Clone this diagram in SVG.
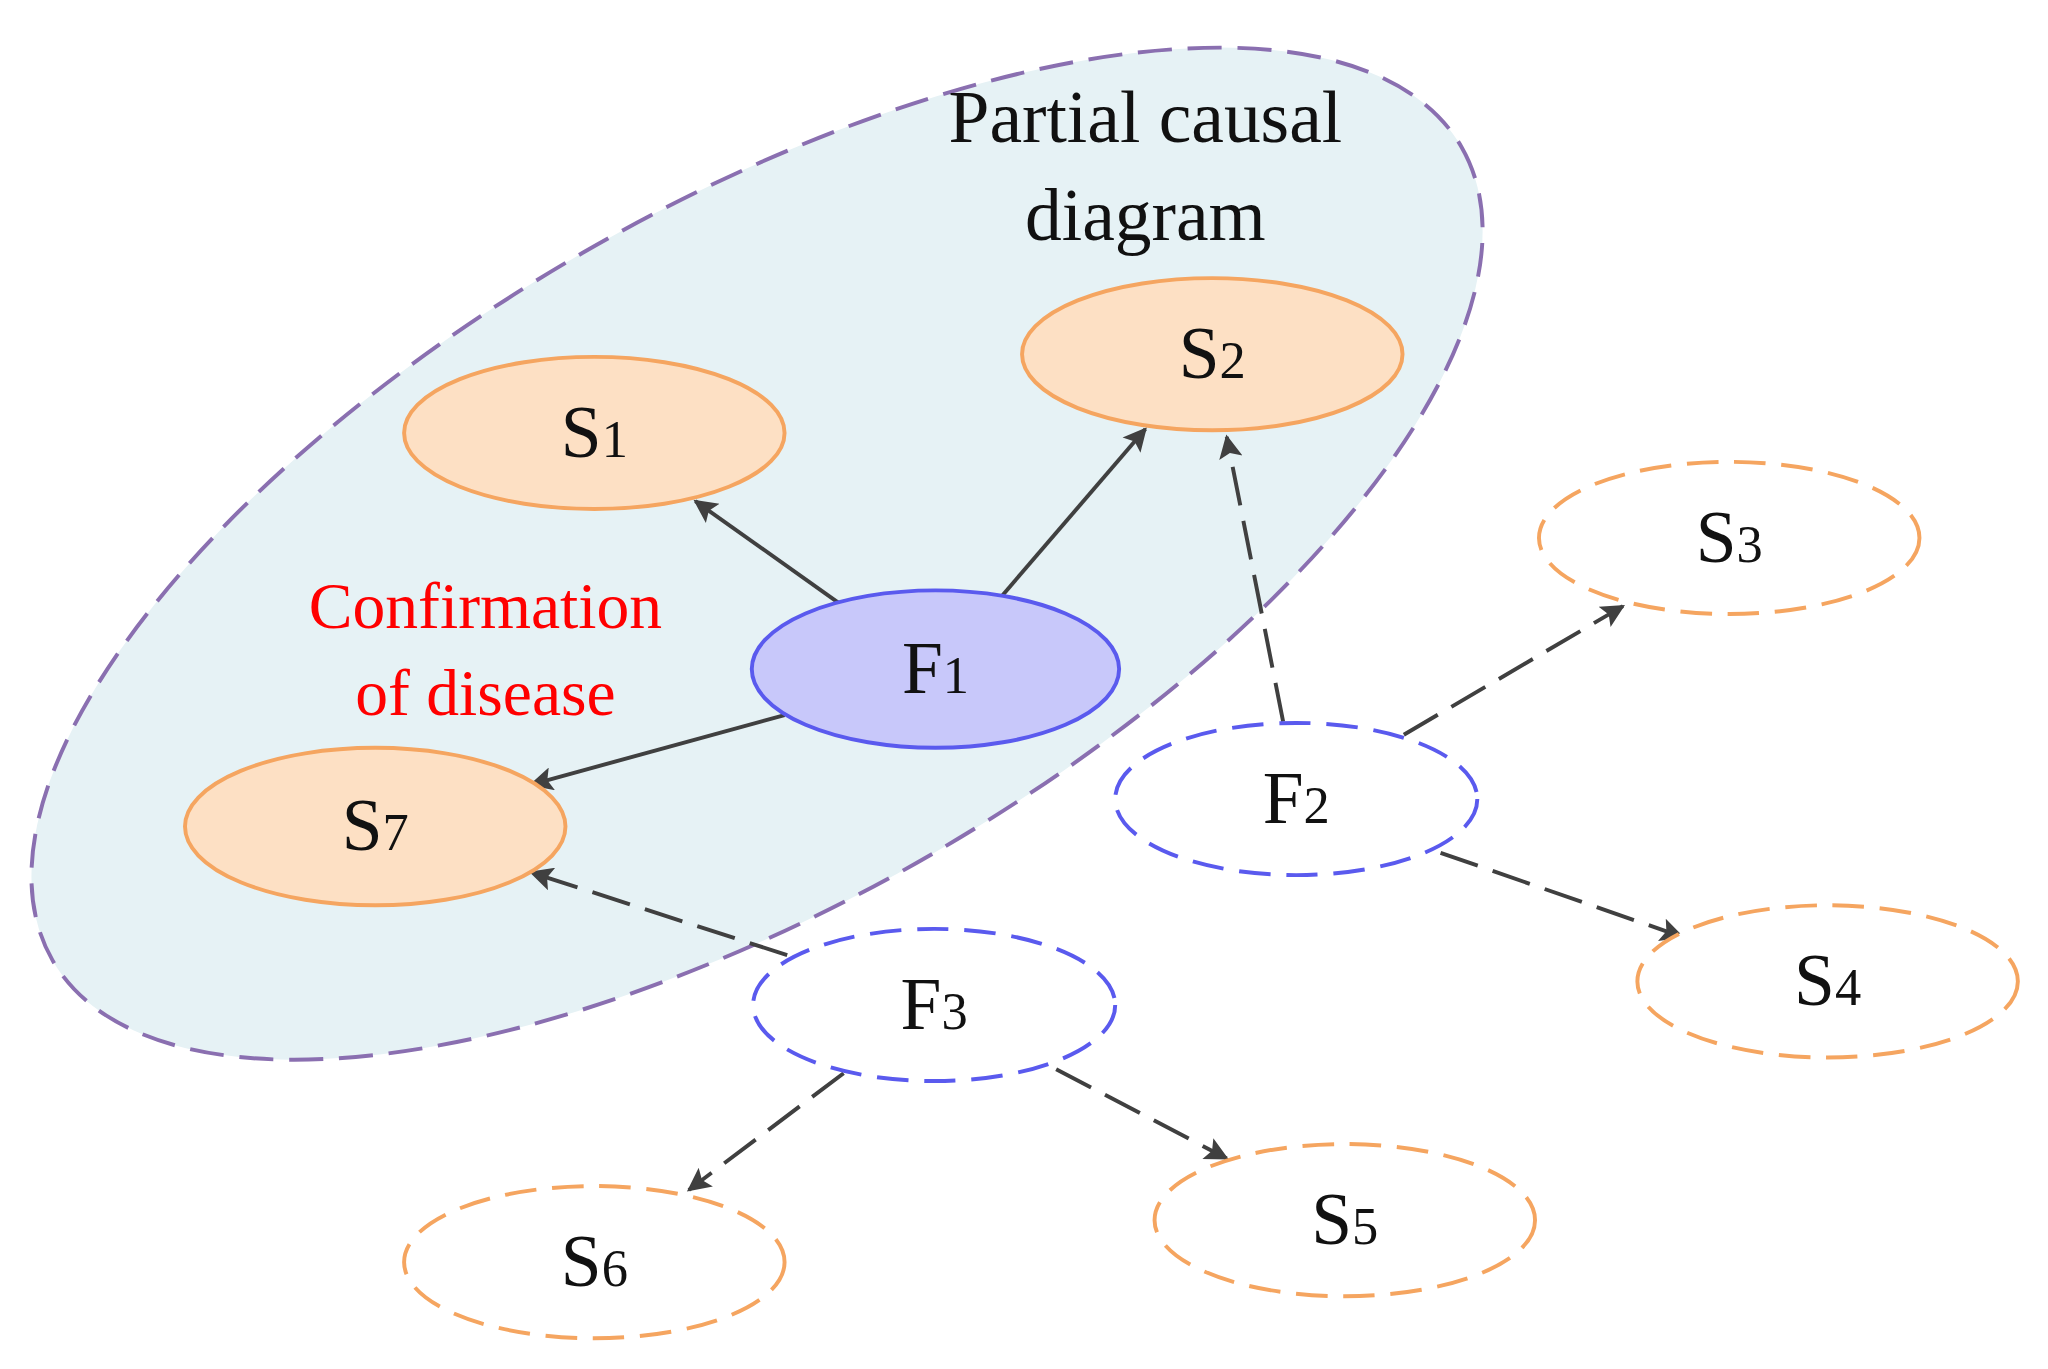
<svg xmlns="http://www.w3.org/2000/svg" width="2048" height="1369" viewBox="0 0 2048 1369">
<defs>
<marker id="ah" viewBox="0 0 10 10" refX="9" refY="5" markerWidth="22" markerHeight="18" orient="auto" markerUnits="userSpaceOnUse"><path d="M0,0 L10,5 L0,10 L2,5 z" fill="#404040"/></marker>
<style>
.t{font-family:"Liberation Serif",serif;font-size:56px;fill:#111;text-anchor:middle}
.sub{font-size:40px}
.so{fill:#fde0c4;stroke:#f5a560;stroke-width:3}
.do{fill:#fff;stroke:#f5a560;stroke-width:3;stroke-dasharray:24 12}
.db{fill:#fff;stroke:#5a5aee;stroke-width:3;stroke-dasharray:24 12}
.c{stroke:#404040;stroke-width:3;fill:none;marker-end:url(#ah)}
.cd{stroke-dasharray:30 12}
</style>
</defs>
<rect width="2048" height="1369" fill="#fff"/>
<g transform="scale(1.312)">
<g id="region">
<ellipse cx="577" cy="422" rx="620" ry="265" transform="rotate(-30 577 422)" fill="#e6f2f5" stroke="#8a6fb0" stroke-width="3" stroke-dasharray="26 12"/>
<text class="t" x="873" y="108">Partial causal</text>
<text class="t" x="873" y="183">diagram</text>
<text class="t" x="370" y="479" style="fill:#f00;font-size:50px">Confirmation</text>
<text class="t" x="370" y="545" style="fill:#f00;font-size:50px">of disease</text>
</g>
<g id="connectors">
<line class="c" x1="640" y1="460" x2="530" y2="382"/>
<line class="c" x1="763" y1="455" x2="873" y2="327"/>
<line class="c" x1="598" y1="545" x2="405" y2="598"/>
<line class="c cd" x1="978" y1="550" x2="935" y2="333"/>
<line class="c cd" x1="1070" y1="560" x2="1237" y2="462"/>
<line class="c cd" x1="1098" y1="650" x2="1282" y2="714"/>
<line class="c cd" x1="600" y1="728" x2="405" y2="665"/>
<line class="c cd" x1="643" y1="818" x2="525" y2="907"/>
<line class="c cd" x1="805" y1="815" x2="935" y2="883"/>
</g>
<g id="S1"><ellipse class="so" cx="453" cy="330" rx="145" ry="58"/><text class="t" x="453" y="348">S<tspan class="sub">1</tspan></text></g>
<g id="S2"><ellipse class="so" cx="924" cy="270" rx="145" ry="58"/><text class="t" x="924" y="288">S<tspan class="sub">2</tspan></text></g>
<g id="S7"><ellipse class="so" cx="286" cy="630" rx="145" ry="60"/><text class="t" x="286" y="648">S<tspan class="sub">7</tspan></text></g>
<g id="F1"><ellipse cx="713" cy="510" rx="140" ry="60" fill="#c8c8fa" stroke="#5a5aee" stroke-width="3"/><text class="t" x="713" y="528">F<tspan class="sub">1</tspan></text></g>
<g id="F2"><ellipse class="db" cx="988" cy="609" rx="138" ry="58"/><text class="t" x="988" y="627">F<tspan class="sub">2</tspan></text></g>
<g id="F3"><ellipse class="db" cx="712" cy="766" rx="138" ry="58"/><text class="t" x="712" y="784">F<tspan class="sub">3</tspan></text></g>
<g id="S3"><ellipse class="do" cx="1318" cy="410" rx="145" ry="58"/><text class="t" x="1318" y="428">S<tspan class="sub">3</tspan></text></g>
<g id="S4"><ellipse class="do" cx="1393" cy="748" rx="145" ry="58"/><text class="t" x="1393" y="766">S<tspan class="sub">4</tspan></text></g>
<g id="S5"><ellipse class="do" cx="1025" cy="930" rx="145" ry="58"/><text class="t" x="1025" y="948">S<tspan class="sub">5</tspan></text></g>
<g id="S6"><ellipse class="do" cx="453" cy="962" rx="145" ry="58"/><text class="t" x="453" y="980">S<tspan class="sub">6</tspan></text></g>
</g>
</svg>
